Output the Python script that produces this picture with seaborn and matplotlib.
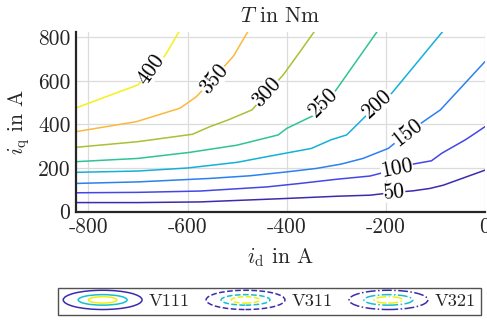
import matplotlib
matplotlib.use("Agg")
import matplotlib.pyplot as plt
import seaborn as sns
import pandas as pd
from matplotlib.legend_handler import HandlerBase
from matplotlib.patches import Ellipse
from matplotlib.lines import Line2D

# ---- data (i_d, i_q in A) ----
levels = [50, 100, 150, 200, 250, 300, 350, 400]

id_50 = [-825, -700, -575, -400, -300, -232, -182, -145, -111, -84, 0]
iq_50 = [41, 41, 44, 60, 70, 75, 88, 95, 106, 121, 190]

id_100 = [-825, -700, -575, -440, -373, -300, -232, -178, -145, -108, -87, -40, -20, 0]
iq_100 = [86, 88, 94, 113, 129, 148, 163, 195, 218, 233, 268, 329, 359, 390]

id_150 = [-825, -700, -555, -475, -400, -340, -290, -246, -195, -160, -120, -90, 0]
iq_150 = [129, 136, 152, 164, 182, 198, 218, 244, 290, 355, 420, 467, 689]

id_200 = [-825, -700, -600, -500, -440, -350, -310, -279, -240, -188, -84]
iq_200 = [180, 186, 200, 226, 252, 290, 330, 352, 440, 544, 831]

id_250 = [-825, -700, -595, -500, -417, -400, -336, -300, -215]
iq_250 = [229, 244, 272, 305, 352, 382, 452, 560, 835]

id_300 = [-825, -700, -590, -555, -518, -470, -407, -373, -343]
iq_300 = [295, 321, 355, 390, 421, 467, 628, 735, 831]

id_350 = [-825, -703, -615, -582, -508, -478]
iq_350 = [367, 413, 475, 528, 712, 828]

id_400 = [-825, -700, -645, -615]
iq_400 = [476, 582, 718, 835]

contour_id = [id_50, id_100, id_150, id_200, id_250, id_300, id_350, id_400]
contour_iq = [iq_50, iq_100, iq_150, iq_200, iq_250, iq_300, iq_350, iq_400]

# contour label anchors (i_d, i_q) and rotation
label_id = [-183, -178, -157, -218, -327, -440, -547, -673]
label_iq = [89, 200, 362, 497, 500, 548, 608, 655]
label_rot = [5, 11, 38, 42, 45, 48, 50, 55]

x_ticks = [-800, -600, -400, -200, 0]
y_ticks = [0, 200, 400, 600, 800]
legend_names = ["V111", "V311", "V321"]

# ---- styles ----
palette = ["#3b2cae", "#4447e6", "#2c80f0", "#15b0d8", "#2fc397",
           "#a9c132", "#fbb93c", "#f6f01a"]

rows = []
for lev, xs, ys in zip(levels, contour_id, contour_iq):
    for k, (x, y) in enumerate(zip(xs, ys)):
        rows.append({"id": x, "iq": y, "T": lev, "k": k})
df = pd.DataFrame(rows)

sns.set_style("white")
plt.rcParams["font.family"] = ["cmr10", "DejaVu Serif"]
plt.rcParams["mathtext.fontset"] = "cm"
plt.rcParams["axes.unicode_minus"] = False
plt.rcParams["axes.formatter.use_mathtext"] = True

FS = 15.5
FSL = 13.2
fig = plt.figure(figsize=(4.87, 3.22), dpi=100)
ax = fig.add_axes([76 / 487, 1 - 211.5 / 322, (485 - 76) / 487, (211.5 - 32) / 322])

sns.lineplot(data=df, x="id", y="iq", hue="T", palette=palette,
             hue_order=levels, sort=False, estimator=None, units="T",
             legend=False, lw=1.1, ax=ax)

ax.set_xlim(-825, 0)
ax.set_ylim(0, 825)
ax.set_xticks(x_ticks)
ax.set_xticklabels([str(v) for v in x_ticks])
ax.set_yticks(y_ticks)
ax.set_yticklabels([str(v) for v in y_ticks])
ax.grid(True, color="#dcdcdc", lw=0.9)
ax.set_axisbelow(True)
for s in ["top", "right"]:
    ax.spines[s].set_visible(False)
for s in ["left", "bottom"]:
    ax.spines[s].set_color("#262626")
    ax.spines[s].set_linewidth(1.6)
ax.tick_params(direction="in", length=4, width=1.4, color="#262626",
               labelsize=FS, labelcolor="#262626", pad=4)

for lev, x, y, r in zip(levels, label_id, label_iq, label_rot):
    ax.text(x, y, str(lev), rotation=r, rotation_mode="anchor",
            ha="center", va="center", fontsize=FS, color="black",
            bbox=dict(fc="white", ec="none", pad=0.2), zorder=5)

ax.set_xlabel(r"$i_\mathrm{d}$ in A", fontsize=FS, color="#262626", labelpad=6)
ax.set_ylabel(r"$i_\mathrm{q}$ in A", fontsize=FS, color="#262626", labelpad=4)
ax.set_title(r"$T$ in Nm", fontsize=FS, color="#262626", pad=7)


class EllipseHandler(HandlerBase):
    def create_artists(self, legend, orig_handle, xdescent, ydescent,
                       width, height, fontsize, trans):
        cx = width / 2 - xdescent
        cy = height / 2 - ydescent
        ls = orig_handle.get_linestyle()
        arts = []
        for wf, hf, c in [(1.0, 1.5, "#3b2cae"), (0.62, 0.82, "#15bfd0"),
                          (0.36, 0.5, "#f3ee10")]:
            e = Ellipse((cx, cy), width * wf, height * hf, fill=False,
                        edgecolor=c, lw=1.1, linestyle=ls, transform=trans)
            arts.append(e)
        return arts


handles = [Line2D([], [], ls="-"), Line2D([], [], ls="--"), Line2D([], [], ls="-.")]
leg = fig.legend(handles, legend_names, loc="center", bbox_to_anchor=(0.553, 0.064),
                 ncol=3, fontsize=FSL, frameon=True, fancybox=False,
                 edgecolor="#262626", handlelength=4.3, handleheight=0.7,
                 columnspacing=0.9, handletextpad=0.35, borderpad=0.3,
                 handler_map={Line2D: EllipseHandler()})
leg.get_frame().set_linewidth(1.0)

fig.savefig("out.png", dpi=100)
